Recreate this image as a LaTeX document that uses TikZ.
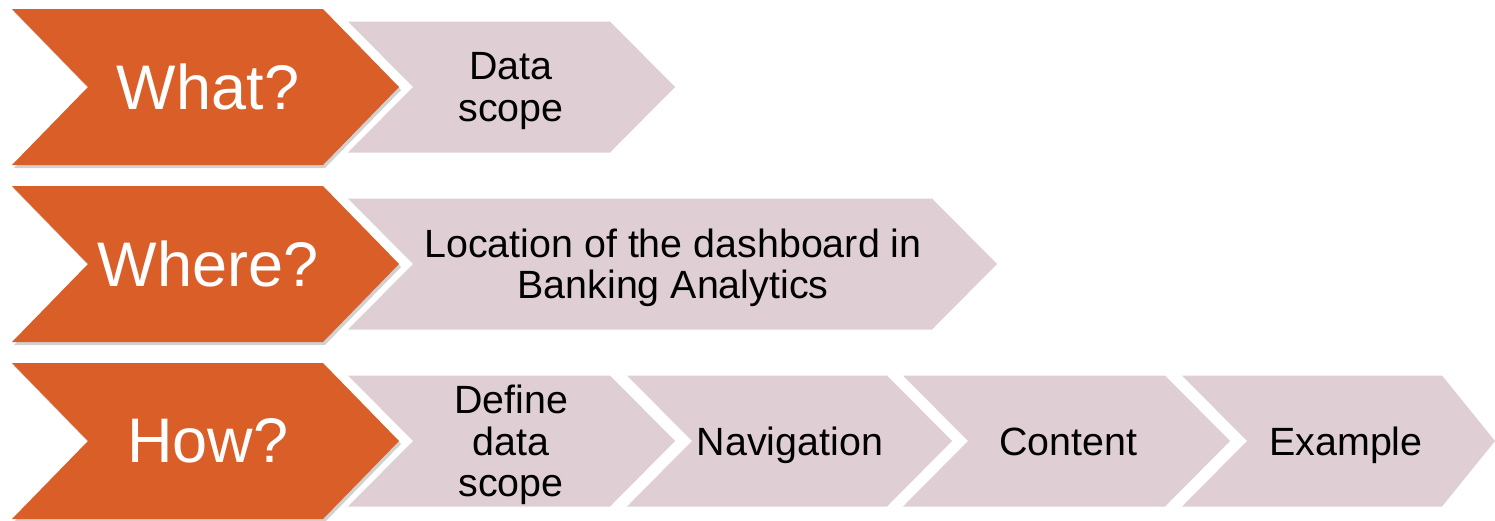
\documentclass[tikz,border=0pt]{standalone}
\usepackage{fontspec}
\setmainfont{Liberation Sans}
\usetikzlibrary{shadows}
\definecolor{chevorange}{RGB}{218,94,39}
\definecolor{chevpink}{RGB}{223,207,213}
\tikzset{
  orangechev/.style={fill=chevorange, draw=none,
    drop shadow={shadow xshift=2pt, shadow yshift=-3pt, fill=black, opacity=0.18}},
  pinkchev/.style={fill=chevpink, draw=none},
  bigtext/.style={text=white, font=\fontsize{63}{70}\selectfont, inner sep=0pt},
  smalltext/.style={text=black, font=\fontsize{39.4}{41.5}\selectfont, inner sep=0pt, align=center},
  onelinetext/.style={smalltext, text height=28.2pt, text depth=0pt},
}
\begin{document}
\begin{tikzpicture}[x=1pt,y=-1pt]
\useasboundingbox (0,0) rectangle (1495,520);
\fill[white] (0,0) rectangle (1495,520);

% ---------- Row 1 ----------
\path[pinkchev] (348,21.5) -- (610,21.5) -- (675,87) -- (610,152.5) -- (348,152.5) -- (413,87) -- cycle;
\path[orangechev] (12,9) -- (323,9) -- (399,87) -- (323,165) -- (12,165) -- (88,87) -- cycle;
\node[bigtext] (what) at (208,87) {What?};
\node[smalltext] (datascope) at (511,91) {Data\\scope};

% ---------- Row 2 ----------
\path[pinkchev] (348,198.5) -- (932,198.5) -- (997,264) -- (932,329.5) -- (348,329.5) -- (413,264) -- cycle;
\path[orangechev] (12,186) -- (323,186) -- (399,264) -- (323,342) -- (12,342) -- (88,264) -- cycle;
\node[bigtext] (where) at (208,264) {Where?};
\node[smalltext] (location) at (673,268) {Location of the dashboard in\\Banking Analytics};

% ---------- Row 3 ----------
\path[pinkchev] (348,375.5) -- (610,375.5) -- (675,441) -- (610,506.5) -- (348,506.5) -- (413,441) -- cycle;
\path[pinkchev] (627,375.5) -- (887,375.5) -- (952,441) -- (887,506.5) -- (627,506.5) -- (692,441) -- cycle;
\path[pinkchev] (903,375.5) -- (1165,375.5) -- (1230,441) -- (1165,506.5) -- (903,506.5) -- (968,441) -- cycle;
\path[pinkchev] (1182,375.5) -- (1442,375.5) -- (1495,441) -- (1442,506.5) -- (1182,506.5) -- (1247,441) -- cycle;
\path[orangechev] (12,363) -- (323,363) -- (399,441) -- (323,519) -- (12,519) -- (88,441) -- cycle;
\node[bigtext] (how) at (208,441) {How?};
\node[smalltext] (define) at (511,445) {Define\\data\\scope};
\node[onelinetext] (navigation) at (790,441) {Navigation};
\node[onelinetext] (content) at (1068,441) {Content};
\node[onelinetext] (example) at (1346,441) {Example};
\end{tikzpicture}
\end{document}
